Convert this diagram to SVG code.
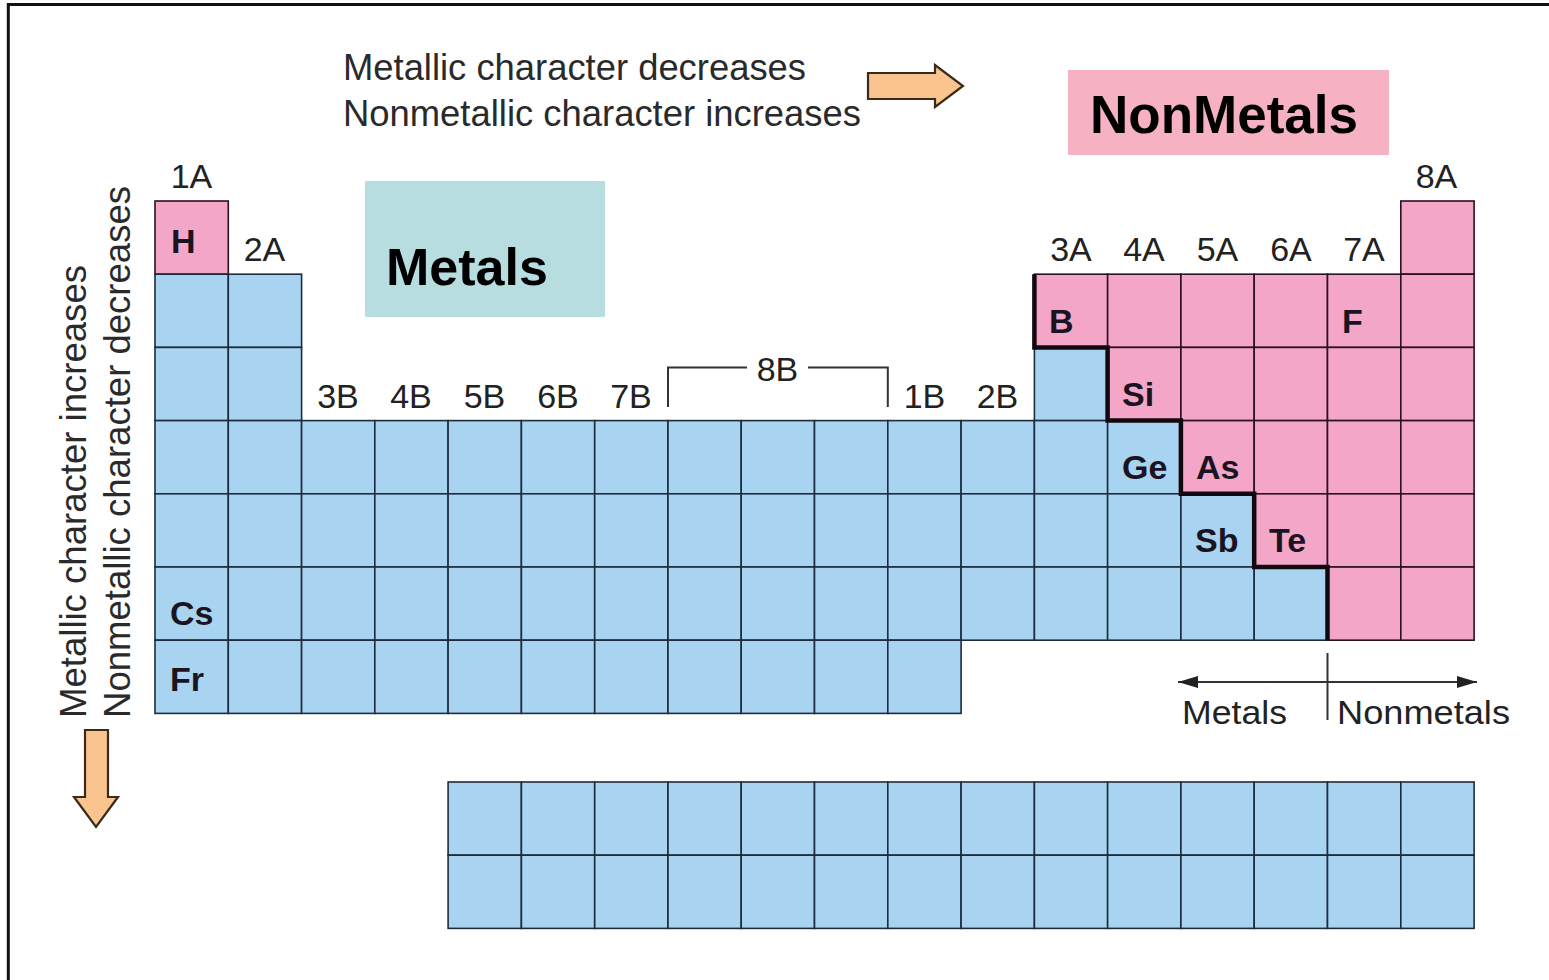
<svg xmlns="http://www.w3.org/2000/svg" xmlns:xlink="http://www.w3.org/1999/xlink" width="1549" height="980" viewBox="0 0 1549 980">
<style>
.bl{fill:#a8d3f1;stroke:#1c2c3c;stroke-width:1.6}
.pk{fill:#f3a6c8;stroke:#2a1020;stroke-width:1.6}
.lbl{font-family:"Liberation Sans",Arial,sans-serif;font-size:34px;fill:#222}
.big{font-family:"Liberation Sans",Arial,sans-serif;font-size:36px;fill:#2a2a2a}
.sym{font-family:"Liberation Sans",Arial,sans-serif;font-size:34px;font-weight:bold;fill:#1a1422}
.hdr{font-family:"Liberation Sans",Arial,sans-serif;font-weight:bold;fill:#000}
.arr{fill:#f9c48e;stroke:#3a2a1a;stroke-width:2.2;stroke-linejoin:miter}
.ln{stroke:#333;stroke-width:2;fill:none}
</style>
<defs>
<rect id="b" width="73.3" height="73.2" class="bl"/>
<rect id="p" width="73.3" height="73.2" class="pk"/>
<marker id="ah" viewBox="0 0 20 12" refX="20" refY="6" markerWidth="20" markerHeight="12" markerUnits="userSpaceOnUse" orient="auto-start-reverse">
<path d="M0,0 L20,6 L0,12 Z" fill="#222"/>
</marker>
</defs>
<rect width="1549" height="980" fill="#fff"/>
<path d="M8.3,980 V4.5 H1549" fill="none" stroke="#111" stroke-width="3"/>

<g id="top-text">
<text class="big" x="343" y="80" textLength="463" lengthAdjust="spacingAndGlyphs">Metallic character decreases</text>
<text class="big" x="343" y="126" textLength="518" lengthAdjust="spacingAndGlyphs">Nonmetallic character increases</text>
<path id="right-arrow" class="arr" d="M868,73 H935 V65 L963,86 L935,107 V99 H868 Z"/>
</g>

<g id="side-text">
<text class="big" transform="translate(86,718) rotate(-90)" textLength="453" lengthAdjust="spacingAndGlyphs">Metallic character increases</text>
<text class="big" transform="translate(130,718) rotate(-90)" textLength="532" lengthAdjust="spacingAndGlyphs">Nonmetallic character decreases</text>
<path id="down-arrow" class="arr" d="M85,730 H108 V797 H118 L96,827 L74,797 H85 Z"/>
</g>

<g id="metals-box">
<rect x="365" y="181" width="240" height="136" fill="#b8dde1"/>
<text class="hdr" x="386" y="285" font-size="52">Metals</text>
</g>
<g id="nonmetals-box">
<rect x="1068" y="70" width="321" height="85" fill="#f6b2c2"/>
<text class="hdr" x="1090" y="133" font-size="53">NonMetals</text>
</g>

<g id="cells">
<use href="#p" x="155" y="201"/>
<use href="#p" x="1400.8" y="201"/>
<use href="#b" x="155" y="274.2"/><use href="#b" x="228.3" y="274.2"/>
<use href="#p" x="1034.4" y="274.2"/><use href="#p" x="1107.6" y="274.2"/><use href="#p" x="1180.9" y="274.2"/><use href="#p" x="1254.2" y="274.2"/><use href="#p" x="1327.5" y="274.2"/><use href="#p" x="1400.8" y="274.2"/>
<use href="#b" x="155" y="347.4"/><use href="#b" x="228.3" y="347.4"/>
<use href="#b" x="1034.4" y="347.4"/>
<use href="#p" x="1107.6" y="347.4"/><use href="#p" x="1180.9" y="347.4"/><use href="#p" x="1254.2" y="347.4"/><use href="#p" x="1327.5" y="347.4"/><use href="#p" x="1400.8" y="347.4"/>
<use href="#b" x="155" y="420.6"/><use href="#b" x="228.3" y="420.6"/><use href="#b" x="301.6" y="420.6"/><use href="#b" x="374.8" y="420.6"/><use href="#b" x="448.1" y="420.6"/><use href="#b" x="521.4" y="420.6"/><use href="#b" x="594.7" y="420.6"/><use href="#b" x="668" y="420.6"/><use href="#b" x="741.2" y="420.6"/><use href="#b" x="814.5" y="420.6"/><use href="#b" x="887.8" y="420.6"/><use href="#b" x="961.1" y="420.6"/><use href="#b" x="1034.4" y="420.6"/><use href="#b" x="1107.6" y="420.6"/>
<use href="#p" x="1180.9" y="420.6"/><use href="#p" x="1254.2" y="420.6"/><use href="#p" x="1327.5" y="420.6"/><use href="#p" x="1400.8" y="420.6"/>
<use href="#b" x="155" y="493.8"/><use href="#b" x="228.3" y="493.8"/><use href="#b" x="301.6" y="493.8"/><use href="#b" x="374.8" y="493.8"/><use href="#b" x="448.1" y="493.8"/><use href="#b" x="521.4" y="493.8"/><use href="#b" x="594.7" y="493.8"/><use href="#b" x="668" y="493.8"/><use href="#b" x="741.2" y="493.8"/><use href="#b" x="814.5" y="493.8"/><use href="#b" x="887.8" y="493.8"/><use href="#b" x="961.1" y="493.8"/><use href="#b" x="1034.4" y="493.8"/><use href="#b" x="1107.6" y="493.8"/><use href="#b" x="1180.9" y="493.8"/>
<use href="#p" x="1254.2" y="493.8"/><use href="#p" x="1327.5" y="493.8"/><use href="#p" x="1400.8" y="493.8"/>
<use href="#b" x="155" y="567"/><use href="#b" x="228.3" y="567"/><use href="#b" x="301.6" y="567"/><use href="#b" x="374.8" y="567"/><use href="#b" x="448.1" y="567"/><use href="#b" x="521.4" y="567"/><use href="#b" x="594.7" y="567"/><use href="#b" x="668" y="567"/><use href="#b" x="741.2" y="567"/><use href="#b" x="814.5" y="567"/><use href="#b" x="887.8" y="567"/><use href="#b" x="961.1" y="567"/><use href="#b" x="1034.4" y="567"/><use href="#b" x="1107.6" y="567"/><use href="#b" x="1180.9" y="567"/><use href="#b" x="1254.2" y="567"/>
<use href="#p" x="1327.5" y="567"/><use href="#p" x="1400.8" y="567"/>
<use href="#b" x="155" y="640.2"/><use href="#b" x="228.3" y="640.2"/><use href="#b" x="301.6" y="640.2"/><use href="#b" x="374.8" y="640.2"/><use href="#b" x="448.1" y="640.2"/><use href="#b" x="521.4" y="640.2"/><use href="#b" x="594.7" y="640.2"/><use href="#b" x="668" y="640.2"/><use href="#b" x="741.2" y="640.2"/><use href="#b" x="814.5" y="640.2"/><use href="#b" x="887.8" y="640.2"/>
</g>

<g id="inner-transition">
<use href="#b" x="448.1" y="782"/><use href="#b" x="521.4" y="782"/><use href="#b" x="594.7" y="782"/><use href="#b" x="668" y="782"/><use href="#b" x="741.2" y="782"/><use href="#b" x="814.5" y="782"/><use href="#b" x="887.8" y="782"/><use href="#b" x="961.1" y="782"/><use href="#b" x="1034.4" y="782"/><use href="#b" x="1107.6" y="782"/><use href="#b" x="1180.9" y="782"/><use href="#b" x="1254.2" y="782"/><use href="#b" x="1327.5" y="782"/><use href="#b" x="1400.8" y="782"/>
<use href="#b" x="448.1" y="855.2"/><use href="#b" x="521.4" y="855.2"/><use href="#b" x="594.7" y="855.2"/><use href="#b" x="668" y="855.2"/><use href="#b" x="741.2" y="855.2"/><use href="#b" x="814.5" y="855.2"/><use href="#b" x="887.8" y="855.2"/><use href="#b" x="961.1" y="855.2"/><use href="#b" x="1034.4" y="855.2"/><use href="#b" x="1107.6" y="855.2"/><use href="#b" x="1180.9" y="855.2"/><use href="#b" x="1254.2" y="855.2"/><use href="#b" x="1327.5" y="855.2"/><use href="#b" x="1400.8" y="855.2"/>
</g>

<path id="staircase" d="M1034.4,274.2 V347.4 H1107.6 V420.6 H1180.9 V493.8 H1254.2 V567 H1327.5 V640.2" fill="none" stroke="#140810" stroke-width="4.5" stroke-linejoin="miter"/>

<g id="symbols">
<text class="sym" x="171" y="253">H</text>
<text class="sym" x="1049" y="333">B</text>
<text class="sym" x="1342" y="333">F</text>
<text class="sym" x="1122" y="406">Si</text>
<text class="sym" x="1122" y="479">Ge</text>
<text class="sym" x="1196" y="479">As</text>
<text class="sym" x="1195" y="552">Sb</text>
<text class="sym" x="1269" y="552">Te</text>
<text class="sym" x="170" y="625">Cs</text>
<text class="sym" x="170" y="691">Fr</text>
</g>

<g id="group-labels" text-anchor="middle">
<text class="lbl" x="191.5" y="188">1A</text>
<text class="lbl" x="1436.5" y="188">8A</text>
<text class="lbl" x="264.5" y="261">2A</text>
<text class="lbl" x="1071" y="261">3A</text>
<text class="lbl" x="1144" y="261">4A</text>
<text class="lbl" x="1217.5" y="261">5A</text>
<text class="lbl" x="1291" y="261">6A</text>
<text class="lbl" x="1364" y="261">7A</text>
<text class="lbl" x="338" y="408">3B</text>
<text class="lbl" x="411" y="408">4B</text>
<text class="lbl" x="484.5" y="408">5B</text>
<text class="lbl" x="558" y="408">6B</text>
<text class="lbl" x="631" y="408">7B</text>
<text class="lbl" x="777.5" y="381">8B</text>
<text class="lbl" x="924.5" y="408">1B</text>
<text class="lbl" x="997.5" y="408">2B</text>
</g>
<path id="bracket-8b" class="ln" d="M668,407 V367.5 H747 M808,367.5 H887.8 V407"/>

<g id="legend">
<line class="ln" x1="1178" y1="682" x2="1477" y2="682" marker-start="url(#ah)" marker-end="url(#ah)"/>
<line class="ln" x1="1327.5" y1="653" x2="1327.5" y2="720"/>
<text class="lbl" x="1182" y="724" textLength="105" lengthAdjust="spacingAndGlyphs">Metals</text>
<text class="lbl" x="1337" y="724" textLength="173" lengthAdjust="spacingAndGlyphs">Nonmetals</text>
</g>
</svg>
